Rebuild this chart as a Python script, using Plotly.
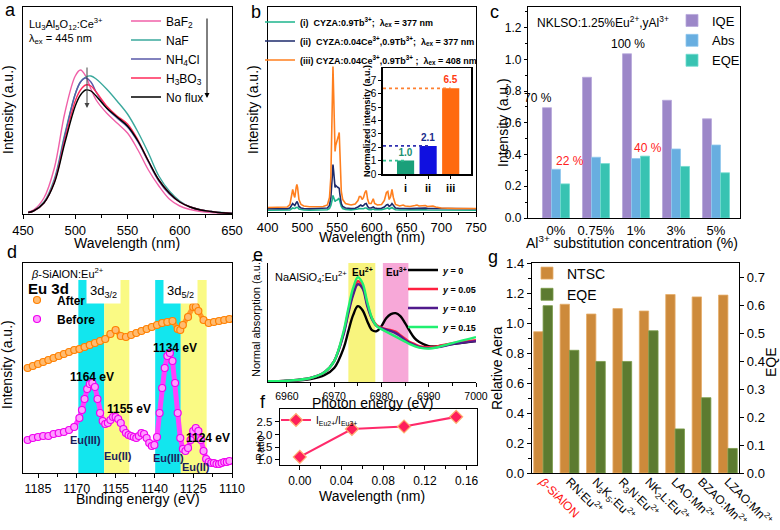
import plotly.graph_objects as go

# ======================= DATA =======================
# (a) Lu3Al5O12:Ce3+ emission with different fluxes
a_wl = [455, 460, 470, 480, 490, 500, 505, 510, 515, 520, 530, 540, 550, 560, 570, 580, 590, 600, 610, 620, 630, 640, 650]
a_baf2 = [2, 4, 16, 46, 101, 138, 144, 138, 125, 114, 101, 91, 81, 64, 44, 28, 15, 8, 4.5, 2.5, 1.5, 1, 0.5]
a_naf = [1.5, 3, 12, 35, 80, 120, 132, 137, 138, 135, 125, 113, 100, 82, 61, 38, 23, 13, 7, 4.3, 2.5, 1.5, 0.7]
a_nh4cl = [1.5, 3, 11, 33, 78, 120, 132, 136, 132, 122, 106, 96, 87, 72, 52, 33, 20, 12, 7, 4, 2.5, 1.2, 0.5]
a_h3bo3 = [1.5, 3, 11, 32, 74, 113, 124, 129, 128, 122, 108, 98, 90, 74, 53, 34, 21, 12, 7, 4, 2.5, 1.2, 0.5]
a_noflux = [1.5, 3, 11, 31, 71, 108, 119, 124, 123, 118, 106, 97, 88, 73, 53, 34, 21, 12, 7, 4, 2.5, 1.2, 0.5]
a_names = ["BaF<sub>2</sub>", "NaF", "NH<sub>4</sub>Cl", "H<sub>3</sub>BO<sub>3</sub>", "No flux"]

# (b) CYZA emission spectra
b_wl = [450, 460, 470, 478, 482, 484, 486, 488, 489, 491, 492, 493, 495, 498, 502, 510, 520, 530, 536, 539,
        541, 543, 544, 545, 546, 547, 548, 549, 550, 551, 552, 553, 554, 555, 556, 558, 562, 570, 576, 580,
        582, 584, 586, 588, 590, 592, 594, 596, 599, 602, 604, 608, 614, 618, 621, 623, 625, 627, 629, 631,
        634, 640, 645, 648, 655, 662, 665, 668, 674, 677, 680, 684, 688, 692, 700, 720, 750]
b_i = [1.3, 1.3, 1.3, 1.4, 1.6, 2.5, 3.5, 3, 3, 4, 4.5, 4.2, 2.5, 1.8, 1.5, 1.4, 1.4, 1.5, 1.8, 3,
       6, 12, 16, 14, 10, 10, 11, 11, 11.5, 12, 13, 12.5, 10, 7, 5, 3, 2, 1.6, 1.8, 2.5,
       3, 3, 2.5, 2.8, 3.5, 3.5, 2.5, 1.8, 1.8, 2.5, 1.8, 1.6, 1.7, 2.5, 3.5, 3.5, 2.5, 3, 4, 3,
       1.8, 1.5, 1.6, 1.5, 1.4, 1.6, 1.7, 1.5, 1.6, 1.7, 1.5, 1.5, 1.6, 1.4, 1.3, 1.3, 1.3]
b_ii = [2.7, 2.7, 2.7, 2.8, 3.5, 5.5, 8, 6.5, 6, 8.5, 10, 9, 5, 3.5, 3, 2.8, 2.8, 3, 3.5, 6,
        14, 35, 47, 40, 25, 24, 26, 25, 25, 24, 24, 23, 17, 11, 8, 5, 3.5, 3, 3.3, 4.5,
        6, 6.5, 5.5, 6, 7.5, 8, 5, 3.5, 3.5, 4.5, 3.5, 3, 3.2, 4.5, 6.5, 7, 5, 6, 8, 6,
        3.5, 3, 3.3, 3, 2.9, 3.2, 3.4, 3, 3.2, 3.4, 3.1, 3.1, 3.3, 2.9, 2.7, 2.7, 2.7]
b_iii = [4, 4, 4, 4.5, 7, 15, 22, 16, 14, 24, 27, 24, 12, 7, 5.5, 4.8, 4.6, 5, 6.5, 14,
         35, 110, 145, 118, 70, 60, 66, 68, 70, 72, 76, 79, 55, 32, 20, 12, 8, 6.5, 7.5, 11,
         15, 15, 12, 14, 19, 21, 12, 8, 8, 12.7, 8, 6.5, 7, 11, 19, 20, 12, 15, 22, 14,
         7, 5.5, 6.5, 5.5, 5, 6, 6.5, 5.5, 5.5, 6, 5, 5, 5.5, 4.5, 3.5, 3, 3]
b_names = ["<b>(i)  CYZA:0.9Tb<sup>3+</sup>;  λ<sub>ex</sub> = 377 nm</b>",
           "<b>(ii)  CYZA:0.04Ce<sup>3+</sup>,0.9Tb<sup>3+</sup>;  λ<sub>ex</sub> = 377 nm</b>",
           "<b>(iii) CYZA:0.04Ce<sup>3+</sup>,0.9Tb<sup>3+</sup> ;  λ<sub>ex</sub> = 408 nm</b>"]
b_xtickvals = [450, 500, 550, 600, 650, 700, 750]
b_xticktext = ["400", "500", "550", "600", "650", "700", "750"]

# (b) inset
ins_cat = ["i", "ii", "iii"]
ins_val = [1.0, 2.1, 6.4]
ins_lbl = ["1.0", "2.1", "6.5"]

# (c) quantum efficiency
c_cat = ["0%", "0.75%", "1%", "3%", "5%"]
c_iqe = [0.695, 0.887, 1.035, 0.742, 0.625]
c_abs = [0.307, 0.383, 0.375, 0.435, 0.46]
c_eqe = [0.215, 0.343, 0.39, 0.325, 0.285]

# (d) XPS Eu 3d
d_before_ev = [1189, 1187, 1185, 1183, 1181, 1179, 1177, 1175, 1173, 1171, 1169, 1168, 1167, 1166, 1165, 1164,
               1163, 1162, 1161, 1160, 1159, 1158, 1157, 1156, 1155, 1154, 1153, 1152, 1151, 1150, 1149,
               1148, 1147, 1146, 1145, 1144, 1143, 1142, 1141, 1140, 1139, 1138, 1137, 1136, 1135, 1134,
               1133, 1132, 1131, 1130, 1129, 1128, 1127, 1126, 1125, 1124, 1123, 1122, 1121, 1120, 1119,
               1118, 1117, 1116, 1115, 1114, 1113, 1112, 1111]
d_before = [33, 35, 36, 37, 37, 39, 40, 41, 43, 46, 55, 63, 74, 84, 89, 90,
            86, 74, 60, 52, 49, 50, 53, 56, 56, 54, 50, 44, 40, 38, 37,
            36, 35, 37, 40, 39, 35, 30, 27, 28, 36, 60, 85, 105, 117, 120,
            112, 90, 60, 35, 24, 22, 25, 33, 42, 45, 42, 33, 22, 14, 11,
            10, 10, 9, 9, 10, 11, 11, 12]
d_after_ev = [1189, 1187, 1185, 1183, 1181, 1179, 1177, 1175, 1173, 1171, 1169, 1167, 1165, 1163, 1161,
              1159, 1157, 1155, 1153, 1151, 1149, 1147, 1145, 1143, 1141, 1139, 1137, 1135, 1133, 1131,
              1130, 1129, 1127, 1125, 1124, 1123, 1121, 1119, 1117, 1115, 1113, 1111]
d_after = [105, 107, 109, 111, 113, 115, 117, 119, 121, 123, 124, 126, 128, 130, 132,
           134, 139, 143, 137, 136, 138, 140, 142, 144, 146, 148, 150, 151, 152, 144,
           143, 148, 156, 166, 166, 162, 153, 150, 151, 152, 153, 154]
d_band_edges = [1169.4, 1159.4, 1149.7, 1139.7, 1129.8, 1119.8]
d_band_top = 193

# (e) XANES
e_ev = [6956, 6960, 6965, 6968, 6970, 6972, 6973, 6974, 6975, 6976, 6977, 6978, 6979, 6980, 6981, 6982,
        6983, 6984, 6985, 6986, 6987, 6988, 6990, 6992, 6995, 7000]
e_y0 = [0.7, 1, 3, 7, 14, 34, 51, 67, 76, 72, 61, 52, 51, 56, 64, 68, 69, 66, 59, 51, 44, 40, 36, 36, 38, 41]
e_y005 = [0.7, 1.3, 4, 10, 21, 49, 71, 89, 101, 96, 78, 64, 57, 54.5, 53, 52, 50.5, 47, 43.5, 40, 38, 36, 35, 36, 39, 42]
e_y010 = [0.7, 1.3, 4, 10, 21, 48, 69, 87, 98, 94, 76, 63, 56, 54, 52.5, 51, 49, 46, 42, 39, 37, 35, 34, 35, 38, 41]
e_y015 = [0.7, 1.3, 4, 10, 21, 51, 74, 94, 105, 99, 80, 64, 56, 53, 50.5, 48, 45.5, 43, 40.5, 38, 36, 34.5, 33.5, 35, 39, 45]
e_names = ["<b><i>y</i> = 0</b>", "<b><i>y</i> = 0.05</b>", "<b><i>y</i> = 0.10</b>", "<b><i>y</i> = 0.15</b>"]
e_bands = [(6973.0, 6978.7), (6980.3, 6985.7)]

# (f) ratio
f_x = [0.0, 0.05, 0.10, 0.15]
f_y = [1.12, 2.22, 2.32, 2.70]
f_yticks = [1.0, 1.5, 2.0, 2.5]

# (g) NTSC & EQE comparison
g_cat = ["<span style='color:#ff1010'><i>β</i>-SiAlON</span>", "RN:Eu<sup>2+</sup>", "N<sub>3</sub>K<sub>5</sub>:Eu<sup>2+</sup>",
         "R<sub>3</sub>N:Eu<sup>2+</sup>", "NK<sub>2</sub>L:Eu<sup>2+</sup>", "LAO:Mn<sup>2+</sup>",
         "BZAO:Mn<sup>2+</sup>", "LZAO:Mn<sup>2+</sup>"]
g_ntsc = [0.942, 1.125, 1.06, 1.096, 1.08, 1.19, 1.174, 1.186]
g_eqe = [0.60, 0.44, 0.40, 0.40, 0.51, 0.158, 0.27, 0.088]

# ======================= LAYOUT HELPERS =======================
W, H = 780, 530
FONT = "Liberation Sans, Arial, sans-serif"


def px(x):
    return x / W


def py(y):
    return 1 - y / H


def axis(dom, **kw):
    d = dict(domain=dom, showline=True, linecolor="black", linewidth=1.2, mirror=True,
             ticks="outside", ticklen=4, tickwidth=1, tickcolor="black", showgrid=False,
             zeroline=False, automargin=False, tickfont=dict(size=13, color="black", family=FONT))
    d.update(kw)
    return d


fig = go.Figure()

# ---------- (a)
a_cols = ["#f060a8", "#3aa89c", "#5858a8", "#ff2a5a", "#000000"]
for ys, nm, col in zip([a_baf2, a_naf, a_nh4cl, a_h3bo3, a_noflux], a_names, a_cols):
    fig.add_trace(go.Scatter(x=a_wl, y=ys, name=nm, mode="lines", line=dict(color=col, width=1.4, shape="spline"),
                             xaxis="x", yaxis="y", legend="legend"))

# ---------- (b)
b_cols = ["#1db48c", "#1c2a6b", "#ff7f1e"]
for ys, nm, col in zip([b_i, b_ii, b_iii], b_names, b_cols):
    fig.add_trace(go.Scatter(x=b_wl, y=ys, name=nm, mode="lines", line=dict(color=col, width=1.6),
                             xaxis="x2", yaxis="y2", legend="legend2"))

# inset
ins_range = [-1.0, 2.9]
ins_cols = ["#1aa07a", "#1010e0", "#ff6a10"]
ins_txtcols = ["#1a9070", "#1a2a8c", "#ff3a10"]
ins_x = list(range(len(ins_cat)))
for i, (v, col) in enumerate(zip(ins_val, ["#30c090", "#3030b0", "#ff8030"])):
    fig.add_trace(go.Scatter(x=[ins_range[0], ins_x[i]], y=[v, v], mode="lines", showlegend=False,
                             line=dict(color=col, width=1.6, dash="dot"), xaxis="x3", yaxis="y3"))
fig.add_trace(go.Bar(x=ins_x, y=ins_val, width=0.76, marker=dict(color=ins_cols, line=dict(width=0)),
                     text=ins_lbl, texttemplate="<b>%{text}</b>", textposition="outside",
                     textfont=dict(size=10, color=ins_txtcols, family=FONT), cliponaxis=False,
                     showlegend=False, xaxis="x3", yaxis="y3"))

# ---------- (c)
for ys, nm, col, lc in zip([c_iqe, c_abs, c_eqe], ["IQE", "Abs", "EQE"],
                           ["#9c87c8", "#68aee0", "#38c3b2"], ["#b8a8dc", "#90c8ee", "#70dccf"]):
    fig.add_trace(go.Bar(x=c_cat, y=ys, name=nm, marker=dict(color=col, line=dict(color=lc, width=0.8)),
                         xaxis="x4", yaxis="y4", legend="legend3"))

# ---------- (d)  thick trace line underneath + marker layer (legend shows markers only)
for xs, ys, nm, lc, mc, me in [(d_after_ev, d_after, "<b>After</b>", "#ff9a30", "#ffbb70", "#ff8000"),
                               (d_before_ev, d_before, "<b>Before</b>", "#ff40ff", "#ff9cff", "#f000f0")]:
    fig.add_trace(go.Scatter(x=xs, y=ys, mode="lines", line=dict(color=lc, width=5), showlegend=False,
                             hoverinfo="skip", xaxis="x5", yaxis="y5"))
    fig.add_trace(go.Scatter(x=xs, y=ys, name=nm, mode="markers",
                             marker=dict(size=7, color=mc, line=dict(color=me, width=1.2)),
                             xaxis="x5", yaxis="y5", legend="legend4"))

# ---------- (e)
e_cols = ["#000000", "#ff2040", "#501a8c", "#20f070"]
for ys, nm, col in zip([e_y0, e_y005, e_y010, e_y015], e_names, e_cols):
    fig.add_trace(go.Scatter(x=e_ev, y=ys, name=nm, mode="lines", line=dict(color=col, width=2.4, shape="spline"),
                             xaxis="x6", yaxis="y6", legend="legend5"))

# ---------- (f)
fig.add_trace(go.Scatter(x=f_x, y=f_y, name="I<sub>Eu2+</sub>/I<sub>Eu3+</sub>", mode="lines+markers",
                         line=dict(color="#ff2a6a", width=2.2),
                         marker=dict(symbol="diamond", size=10, color="#ff1f5a", line=dict(color="#ffb070", width=1.2)),
                         xaxis="x7", yaxis="y7", legend="legend6"))

# ---------- (g)
fig.add_trace(go.Bar(x=g_cat, y=g_ntsc, name="NTSC", width=0.355, offset=-0.355,
                     marker=dict(color="#cd8a3b", line=dict(color="#e6ad6a", width=0.8)),
                     xaxis="x8", yaxis="y8", legend="legend7"))
fig.add_trace(go.Bar(x=g_cat, y=g_eqe, name="EQE", width=0.355, offset=0.0,
                     marker=dict(color="#5c7b30", line=dict(color="#7a9a48", width=0.8)),
                     xaxis="x8", yaxis="y9", legend="legend7"))

# ======================= AXES =======================
lay = dict(
    xaxis=axis([px(23), px(232)], anchor="y", range=[450, 650], dtick=50, minor=dict(ticks="outside", ticklen=2.5, dtick=25)),
    yaxis=axis([py(214), py(7)], anchor="x", range=[0, 207], showticklabels=False, ticks=""),
    xaxis2=axis([px(267.7), px(476)], anchor="y2", range=[450, 750], tickvals=b_xtickvals, ticktext=b_xticktext,
                minor=dict(ticks="outside", ticklen=2.5, dtick=25)),
    yaxis2=axis([py(211.5), py(7)], anchor="x2", range=[0, 204.5], showticklabels=False, ticks=""),
    xaxis3=axis([px(383), px(471)], anchor="y3", range=ins_range, tickvals=ins_x,
                ticktext=["<b>%s</b>" % c for c in ins_cat], ticklen=3, linewidth=1.6,
                tickfont=dict(size=11, color="black", family=FONT)),
    yaxis3=axis([py(174), py(68.3)], anchor="x3", range=[0, 7.9], dtick=1, ticklen=3, linewidth=1.6,
                tickfont=dict(size=10, color="black", family=FONT)),
    xaxis4=axis([px(528), px(740)], anchor="y4", range=[-0.7, 4.6], type="category", ticks="",
                tickfont=dict(size=13, color="black", family=FONT)),
    yaxis4=axis([py(218), py(7)], anchor="x4", range=[0, 1.33], dtick=0.2, tickformat=".1f", ticklen=3,
                tickfont=dict(size=12, color="black", family=FONT),
                minor=dict(ticks="outside", ticklen=2, dtick=0.1)),
    xaxis5=axis([px(23), px(232)], anchor="y5", range=[1190.8, 1110], tick0=1110, dtick=15,
                tickfont=dict(size=12.5, color="black", family=FONT),
                minor=dict(ticks="outside", ticklen=2.5, dtick=7.5)),
    yaxis5=axis([py(473), py(263)], anchor="x5", range=[0, 210], showticklabels=False, ticks=""),
    xaxis6=axis([px(268), px(476)], anchor="y6", range=[6956, 7000], dtick=10, mirror=False,
                minor=dict(ticks="outside", ticklen=2.5, dtick=5), tickfont=dict(size=10.5, color="black", family=FONT)),
    yaxis6=axis([py(382), py(263)], anchor="x6", range=[0, 119.3], showticklabels=False, ticks="", mirror=False),
    xaxis7=axis([px(280), px(477)], anchor="y7", range=[-0.019, 0.170], dtick=0.04, tickformat=".2f",
                minor=dict(ticks="outside", ticklen=2.5, dtick=0.02), tickfont=dict(size=12, color="black", family=FONT)),
    yaxis7=axis([py(465), py(409)], anchor="x7", range=[0.80, 3.01], tickvals=f_yticks, tickformat=".1f",
                tickfont=dict(size=11.5, color="black", family=FONT)),
    xaxis8=axis([px(532), px(739)], anchor="y8", range=[-0.42, 7.42], type="category", tickangle=45,
                ticks="", ticklabelstandoff=-4, tickfont=dict(size=12, color="black", family=FONT)),
    yaxis8=axis([py(473), py(263)], anchor="x8", range=[0, 1.4], dtick=0.2, tickformat=".1f", mirror=False,
                minor=dict(ticks="outside", ticklen=2.5, dtick=0.1)),
    yaxis9=axis([py(473), py(263)], anchor="x8", overlaying="y8", side="right", range=[0, 0.753], dtick=0.1,
                tickformat=".1f", mirror=False),
)


def leg(x, y, size):
    return dict(x=px(x), y=py(y), xanchor="left", yanchor="top", bgcolor="rgba(0,0,0,0)", borderwidth=0,
                font=dict(size=size, color="black", family=FONT), itemwidth=30, tracegroupgap=0,
                traceorder="normal")


lay.update(
    legend=leg(126, 6.5, 12),
    legend2=leg(260, 7.5, 9),
    legend3=leg(672, 5.5, 13),
    legend4=leg(17, 285.5, 12),
    legend5=leg(403, 255.5, 9),
    legend6=leg(276, 405.5, 10),
    legend7=leg(527, 257.5, 14),
)

# ======================= SHAPES (bands) =======================
shapes = []
d_band_cols = ["#12e6ee", "#fafa84", None, "#12e6ee", "#fafa84"]
for k in range(len(d_band_edges) - 1):
    if d_band_cols[k] is None:
        continue
    shapes.append(dict(type="rect", xref="x5", yref="y5", x0=d_band_edges[k], x1=d_band_edges[k + 1],
                       y0=0, y1=d_band_top, fillcolor=d_band_cols[k], line=dict(width=0), layer="below"))
for (x0, x1), col in zip(e_bands, ["#f8f47e", "#f7a8d8"]):
    shapes.append(dict(type="rect", xref="x6", yref="y6 domain", x0=x0, x1=x1, y0=0, y1=1,
                       fillcolor=col, line=dict(width=0), layer="below"))

# ======================= ANNOTATIONS =======================
ann = []


def A(text, x, y, size=13, color="black", angle=0, xanchor="center", yanchor="middle", **kw):
    d = dict(text=text, x=px(x), y=py(y), xref="paper", yref="paper", showarrow=False, textangle=angle,
             xanchor=xanchor, yanchor=yanchor, font=dict(size=size, color=color, family=FONT))
    d.update(kw)
    ann.append(d)


def ARROW(x, y_head, y_tail, color="black"):
    ann.append(dict(x=px(x), y=py(y_head), ax=0, ay=-(y_head - y_tail), xref="paper", yref="paper",
                    axref="pixel", ayref="pixel", text="", showarrow=True, arrowhead=2, arrowsize=1,
                    arrowwidth=1, arrowcolor=color))


# panel letters
for t, x, y in [("a", 10, 10), ("b", 256, 12), ("c", 494, 12), ("d", 12, 252), ("e", 258, 255),
                ("f", 263, 402), ("g", 493, 257)]:
    A(t, x, y, size=18)

# axis titles
A("Intensity (a.u.)", 8, 110, 14, angle=-90)
A("Wavelength (nm)", 127, 243, 14)
A("Intensity (a.u.)", 253, 110, 14, angle=-90)
A("Wavelength (nm)", 372, 237, 14)
A("Intensity (a.u.)", 503, 123, 14, angle=-90)
A("Al<sup>3+</sup> substitution concentration (%)", 632, 242, 14)
A("Intensity (a.u.)", 7, 365, 14, angle=-90)
A("Binding energy (eV)", 138, 499, 14)
A("Normal absorption (a.u.)", 256, 318, 11, angle=-90)
A("Photon energy (eV)", 372, 403, 14)
A("Ratio", 260, 448, 11, angle=-90)
A("Wavelength (nm)", 372, 496, 14)
A("Relative Aera", 497, 368, 14, angle=-90)
A("EQE", 771, 362, 14, angle=-90)

# (a) texts
A("Lu<sub>3</sub>Al<sub>5</sub>O<sub>12</sub>:Ce<sup>3+</sup>", 27, 24, 11, xanchor="left")
A("λ<sub>ex</sub> = 445 nm", 27, 39, 11, xanchor="left")
ARROW(207, 98, 17)
ARROW(87, 108, 66, "#444444")

# (b) inset y title
A("<b>Normalized intensity (a.u.)</b>", 367, 121, 9, angle=-90)

# (c) texts
A("NKLSO:1.25%Eu<sup>2+</sup>,yAl<sup>3+</sup>", 535, 22, 12, xanchor="left")
A("70 %", 538, 98, 12)
A("22 %", 570, 161, 12, color="#ff2020")
A("100 %", 628, 44, 12)
A("40 %", 648, 148, 12, color="#ff2020")

# (d) texts
A("<i>β</i>-SiAlON:Eu<sup>2+</sup>", 29, 273, 11, xanchor="left")
A("<b>Eu 3d</b>", 26, 288, 15, xanchor="left")
A("3d<sub>3/2</sub>", 103.5, 291, 13, bgcolor="white", borderpad=3)
A("3d<sub>5/2</sub>", 180.8, 291, 13, bgcolor="white", borderpad=3)
A("<b>1164 eV</b>", 92, 377, 12)
A("<b>1155 eV</b>", 129, 409, 12)
A("<b>1134 eV</b>", 175, 348, 12)
A("<b>1124 eV</b>", 208, 438, 12)
A("<b>Eu(III)</b>", 85, 440, 11, color="#1c1c5c")
A("<b>Eu(II)</b>", 118, 456, 11, color="#1c1c5c")
A("<b>Eu(III)</b>", 168, 458, 11, color="#1c1c5c")
A("<b>Eu(II)</b>", 196, 467, 11, color="#1c1c5c")

# (e) texts
A("NaAlSiO<sub>4</sub>:Eu<sup>2+</sup>", 273, 277, 11, xanchor="left")
A("<b>Eu<sup>2+</sup></b>", 362, 272, 10)
A("<b>Eu<sup>3+</sup></b>", 396, 272, 10)

lay.update(
    width=W, height=H, margin=dict(l=0, r=0, t=0, b=0, pad=0, autoexpand=False),
    paper_bgcolor="white", plot_bgcolor="white",
    font=dict(family=FONT, size=12, color="black"),
    barmode="group", bargap=0.325, bargroupgap=0,
    shapes=shapes, annotations=ann, showlegend=True,
)
fig.update_layout(**lay)
fig.write_html("out.html", config={"displayModeBar": False, "staticPlot": True},
               post_script="document.body.style.margin='0px';document.body.style.padding='0px';")
